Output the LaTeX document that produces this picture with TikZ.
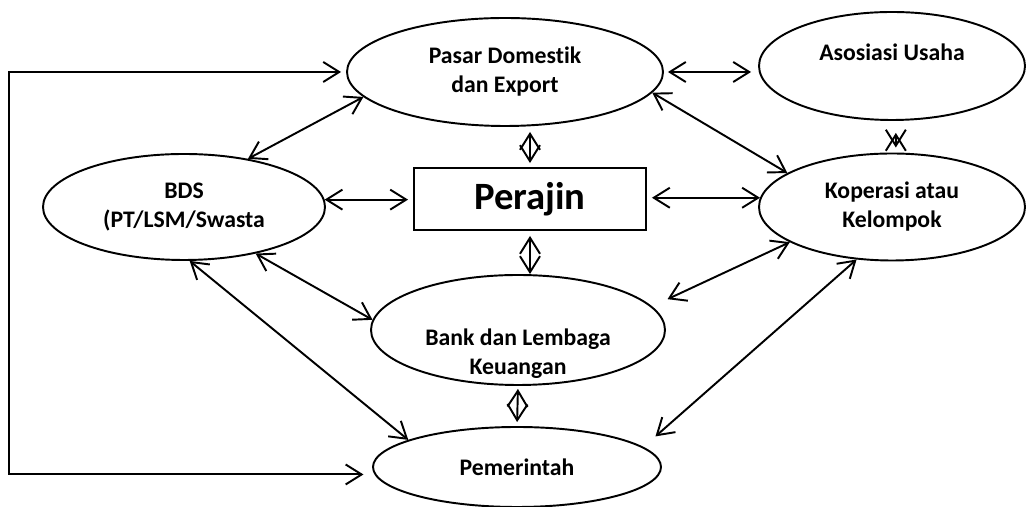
\documentclass[tikz,border=0pt]{standalone}
\usepackage{fontspec}
\setmainfont{Carlito}[Ligatures=NoCommon]
\usetikzlibrary{arrows.meta,shapes.geometric}
\tikzset{
  elipse/.style={draw,ellipse,line width=1.1pt,align=center,inner sep=1pt,
                 font=\bfseries\fontsize{13.5}{16.5}\selectfont},
  teks/.style={align=center,inner sep=0pt,font=\bfseries\fontsize{13.5}{16.5}\selectfont},
  kotak/.style={draw,rectangle,line width=1.1pt,inner sep=2pt,
                font=\bfseries\fontsize{22}{26}\selectfont},
  panah/.style={{Straight Barb[length=3.2mm,width=4mm]}-{Straight Barb[length=3.2mm,width=4mm]},
                line width=1.1pt},
}
\begin{document}
\begin{tikzpicture}[x=1cm,y=1cm]
\useasboundingbox (0,0) rectangle (20.52,10.14);

\node[elipse,minimum width=6.32cm,minimum height=2.16cm] (pasar) at (10.10,8.70)
  {Pasar Domestik\\dan Export};
\node[elipse,minimum width=5.32cm,minimum height=2.16cm,
      label={[teks,yshift=0.27cm]center:Asosiasi Usaha}] (aso) at (17.84,8.82) {};
\node[elipse,minimum width=5.64cm,minimum height=2.12cm] (bds) at (3.68,6.00)
  {BDS\\(PT/LSM/Swasta};
\node[kotak,minimum width=4.64cm,minimum height=1.24cm] (per) at (10.60,6.16) {Perajin};
\node[elipse,minimum width=5.32cm,minimum height=2.14cm] (kop) at (17.84,6.00)
  {Koperasi atau\\Kelompok};
\node[elipse,minimum width=5.88cm,minimum height=2.20cm,
      label={[teks,yshift=-0.48cm]center:{Bank dan Lembaga\\Keuangan}}] (bank) at (10.36,3.54) {};
\node[elipse,minimum width=5.76cm,minimum height=1.60cm] (pem) at (10.34,0.80)
  {Pemerintah};

\draw[panah] (bds.37) -- (pasar.190);
\draw[panah,shorten >=1mm] (bds.3) -- (bds.3 -| per.west);
\draw[panah,shorten <=1mm] (per.east |- kop.176) -- (kop.176);
\draw[panah,shorten <=0.8mm,shorten >=1.4mm] (pasar.east) -- (pasar.east -| aso.west);
\draw[panah] (pasar.-8) -- (kop.162);
\draw[panah,shorten <=1mm,shorten >=0.8mm] (per.north |- pasar.south) -- (per.north);
\draw[panah,shorten <=1mm] (per.south) -- (per.south |- bank.north);
\draw[panah] (bds.-33) -- (bank.176);
\draw[panah] (bds.-84) -- (pem.166);
\draw[panah,shorten >=3.4mm] (kop.199) -- (bank.10);
\draw[panah,shorten >=3.2mm] (kop.236) -- (pem.9);
\draw[panah,shorten <=0.6mm,shorten >=0.8mm] (bank.south) -- (pem.north);
\draw[panah,shorten <=2.4mm,shorten >=1mm] (aso.-86) -- (kop.north -| aso.-86);
\draw[panah,shorten <=1mm,shorten >=2.2mm] (pasar.west) -- ++(-6.74,0) |- (pem.183);

\end{tikzpicture}
\end{document}
